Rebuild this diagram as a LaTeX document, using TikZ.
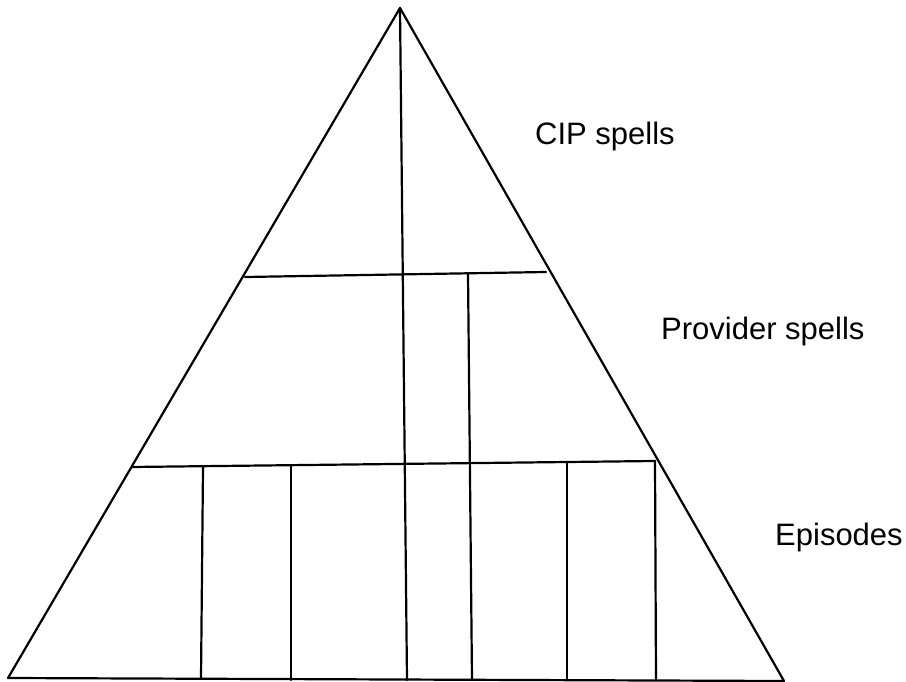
\documentclass[tikz,border=0pt]{standalone}
\usepackage{fontspec}
\setmainfont{Liberation Sans}
\begin{document}
\begin{tikzpicture}[x=1pt,y=-1pt,
  stroke/.style={line width=2.2pt, line cap=round, line join=round, black},
  levellabel/.style={font=\fontsize{31}{36}\selectfont, inner sep=0pt, anchor=base west}]
\useasboundingbox (0,0) rectangle (906,682);

% outline of the pyramid
\coordinate (apex) at (400,8);
\coordinate (bl) at (8,678);
\coordinate (br) at (784,681);
\draw[stroke] (apex) -- (br) -- (bl) -- cycle;

% level dividers
\coordinate (h1l) at (245,277);
\coordinate (h1r) at (546,272);
\coordinate (h2l) at (132,467);
\coordinate (h2r) at (655,461);
\draw[stroke] (h1l) -- (h1r);
\draw[stroke] (h2l) -- (h2r);

% central split from the top down
\coordinate (c0) at (407,680);
\draw[stroke] (apex) -- (c0);

% provider spell split
\coordinate (p1t) at (468,273);
\coordinate (p1b) at (472,680);
\draw[stroke] (p1t) -- (p1b);

% episode splits
\coordinate (e1t) at (203,467);
\coordinate (e1b) at (201,679);
\coordinate (e2t) at (291,466);
\coordinate (e2b) at (291,680);
\coordinate (e3t) at (567,462);
\coordinate (e3b) at (567,680);
\coordinate (e4t) at (655,461);
\coordinate (e4b) at (656,680);
\draw[stroke] (e1t) -- (e1b);
\draw[stroke] (e2t) -- (e2b);
\draw[stroke] (e3t) -- (e3b);
\draw[stroke] (e4t) -- (e4b);

% level names
\node[levellabel] (cip) at (535,145) {CIP spells};
\node[levellabel] (prov) at (661,339) {Provider spells};
\node[levellabel] (epi) at (775,545) {Episodes};
\end{tikzpicture}
\end{document}
